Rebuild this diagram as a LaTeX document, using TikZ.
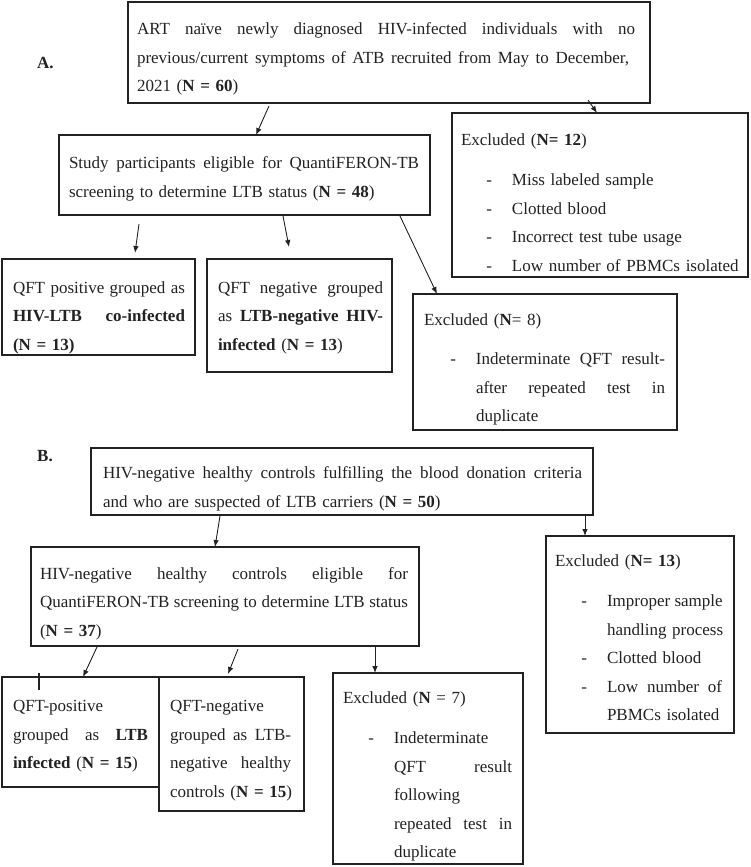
\documentclass[tikz,border=0pt]{standalone}
\usepackage{fontspec}
\setmainfont{Liberation Serif}
\usetikzlibrary{arrows.meta,calc}
\hyphenpenalty=10000
\exhyphenpenalty=10000
\newcommand\jl[2]{\leavevmode\hbox to #1pt{\spaceskip=4.25pt plus 1fil\relax #2}}
\newcommand\dashitem{\leavevmode\llap{-\hspace{20pt}}}
\definecolor{ink}{HTML}{222222}
\tikzset{
  box/.style={draw=ink, line width=1.1pt, anchor=north west, inner sep=0pt, outer sep=0pt},
  txt/.style={anchor=base west, inner sep=0pt, outer sep=0pt, align=left, text=ink,
    text width=300pt, font=\fontsize{17}{28.5}\selectfont},
  lbl/.style={anchor=base west, inner sep=0pt, text=ink, font=\fontsize{17}{20}\selectfont\bfseries},
  arr/.style={draw=ink, line width=0.9pt, -{Latex[length=7pt,width=5.5pt]}}
}
\begin{document}
\begin{tikzpicture}[x=1pt,y=-1pt]
\useasboundingbox[fill=white] (0,0) rectangle (750,867);

% ---------- A ----------
\node[lbl] (la) at (37,68) {A.};

\node[box, minimum width=522, minimum height=101] (T) at (128,2) {};
\node[txt, text width=510pt] (Tt) at (137,34.5) {\jl{498}{ART naïve newly diagnosed HIV-infected individuals with no}\\
\jl{492}{previous/current symptoms of ATB recruited from May to December,}\\
2021 (\textbf{N = 60})};

\node[box, minimum width=371, minimum height=80] (S) at (59,135) {};
\node[txt, text width=360pt] (St) at (69,168.5) {\jl{350}{Study participants eligible for QuantiFERON-TB}\\
screening to determine LTB status (\textbf{N = 48})};

\node[box, minimum width=296, minimum height=164] (E1) at (452,113) {};
\node[txt] (E1h) at (461,145.5) {Excluded (\textbf{N= 12})};
\node[txt, text width=240pt] (E1t) at (512,185.5) {\dashitem Miss labeled sample\\
\dashitem Clotted blood\\
\dashitem Incorrect test tube usage\\
\dashitem Low number of PBMCs isolated};

\node[box, minimum width=193, minimum height=96] (P1) at (2,259) {};
\node[txt, text width=185pt] (P1t) at (13,293) {\jl{172}{QFT positive grouped as}\\
\jl{172}{\textbf{HIV-LTB co-infected}}\\
\textbf{(N = 13)}};

\node[box, minimum width=185, minimum height=113] (P2) at (207,259) {};
\node[txt, text width=180pt] (P2t) at (218,293) {\jl{165}{QFT negative grouped}\\
\jl{165}{as \textbf{LTB-negative HIV-}}\\
\textbf{infected} (\textbf{N = 13})};

\node[box, minimum width=264, minimum height=136] (E2) at (413,294) {};
\node[txt] (E2h) at (424,325.5) {Excluded (\textbf{N}= 8)};
\node[txt, text width=200pt] (E2t) at (476,364.5) {\dashitem\jl{189}{Indeterminate QFT result-}\\
\jl{189}{after repeated test in}\\
duplicate};

\draw[arr] ($(T.south west)+(141,3)$) -- ($(S.north west)+(197,0)$);
\draw[arr] ($(T.south west)+(460,-3)$) -- ($(E1.north west)+(145,0)$);
\draw[arr] ($(S.south west)+(80,9)$) -- ($(P1.north west)+(133,-6)$);
\draw[arr] ($(S.south west)+(224,1)$) -- ($(P2.north west)+(82,-12)$);
\draw[arr] ($(S.south west)+(341,1)$) -- ($(E2.north west)+(24,0)$);

% ---------- B ----------
\node[lbl] (lb) at (37,461) {B.};

\node[box, minimum width=502, minimum height=67] (BT) at (91,448) {};
\node[txt, text width=490pt] (BTt) at (103,478.5) {\jl{479}{HIV-negative healthy controls fulfilling the blood donation criteria}\\
and who are suspected of LTB carriers (\textbf{N = 50})};

\node[box, minimum width=388, minimum height=99] (EL) at (31,547) {};
\node[txt, text width=380pt] (ELt) at (40,579) {\jl{368}{HIV-negative healthy controls eligible for}\\
\jl{368}{QuantiFERON-TB screening to determine LTB status}\\
(\textbf{N = 37})};

\node[box, minimum width=188, minimum height=197] (E3) at (546,536) {};
\node[txt] (E3h) at (555,566.5) {Excluded (\textbf{N= 13})};
\node[txt, text width=160pt] (E3t) at (607,606.5) {\dashitem\jl{115}{Improper sample}\\
handling process\\
\dashitem Clotted blood\\
\dashitem\jl{115}{Low number of}\\
PBMCs isolated};

\node[box, minimum width=157, minimum height=110] (P3) at (2,677) {};
\node[txt, text width=160pt] (P3t) at (13,711.5) {QFT-positive\\
\jl{135}{grouped as \textbf{LTB}}\\
\textbf{infected} (\textbf{N = 15})};

\node[box, minimum width=145, minimum height=134] (P4) at (159,677) {};
\node[txt, text width=160pt] (P4t) at (170,711.5) {QFT-negative\\
\jl{121}{grouped as LTB-}\\
\jl{121}{negative healthy}\\
controls (\textbf{N = 15})};

\node[box, minimum width=190, minimum height=191] (E4) at (333,673) {};
\node[txt] (E4h) at (343,703.5) {Excluded (\textbf{N} = 7)};
\node[txt, text width=160pt] (E4t) at (394,743.5) {\dashitem Indeterminate\\
\jl{118}{QFT result}\\
following\\
\jl{118}{repeated test in}\\
duplicate};

\draw[arr] ($(BT.south west)+(129,1)$) -- ($(EL.north west)+(184,0)$);
\draw[arr] ($(BT.south west)+(494,0)$) -- ($(E3.north west)+(39,0)$);
\draw[arr] ($(EL.south west)+(66,1)$) -- ($(P3.north west)+(81,0)$);
\draw[arr] ($(EL.south west)+(207,3)$) -- ($(P4.north west)+(69,-3)$);
\draw[arr] ($(EL.south west)+(344,0)$) -- ($(E4.north west)+(42,0)$);

% small stray tick on the QFT-positive box
\draw[ink, line width=1.8pt] ($(P3.north west)+(37,-4)$) -- ($(P3.north west)+(37,13)$);
\end{tikzpicture}
\end{document}
